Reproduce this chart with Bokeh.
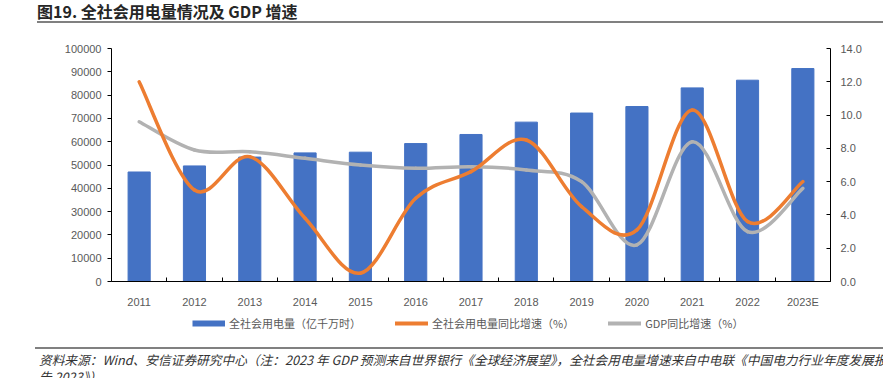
from bokeh.plotting import figure
from bokeh.models import (Range1d, LinearAxis, FixedTicker, Legend, LegendItem,
                          Div, NumeralTickFormatter, ColumnDataSource)
from bokeh.layouts import column
from bokeh.embed import file_html
from bokeh.resources import INLINE

# ---------------- data ----------------
years = ["2011", "2012", "2013", "2014", "2015", "2016", "2017",
         "2018", "2019", "2020", "2021", "2022", "2023E"]
consumption = [47000, 49600, 53400, 55200, 55500, 59200, 63100,
               68400, 72300, 75100, 83100, 86400, 91400]
elec_growth = [12.0, 5.5, 7.5, 3.8, 0.5, 5.0, 6.6, 8.5, 4.5, 3.1, 10.3, 3.6, 6.0]
gdp_growth = [9.6, 7.9, 7.8, 7.4, 7.0, 6.8, 6.9, 6.7, 6.0, 2.2, 8.4, 3.0, 5.6]
left_ticks = [0, 10000, 20000, 30000, 40000, 50000, 60000, 70000, 80000, 90000, 100000]
right_ticks = [0, 2, 4, 6, 8, 10, 12, 14]

title_text = "图19. 全社会用电量情况及 GDP 增速"
legend_labels = ["全社会用电量（亿千万时）", "全社会用电量同比增速（%）", "GDP同比增速（%）"]
note_line1 = "资料来源：Wind、安信证券研究中心（注：2023 年 GDP 预测来自世界银行《全球经济展望》，全社会用电量增速来自中电联《中国电力行业年度发展报"
note_line2 = "告 2023》）"

CJK = "Noto Sans CJK SC"
LAT = "Liberation Sans"
BLUE = "#4472C4"
ORANGE = "#ED7D31"
GRAY = "#B2B2B2"
TXT = "#595959"

n = len(years)
xs = [i + 0.5 for i in range(n)]


def smooth_segments(x, y, t=1.0 / 6.0):
    m = len(x)
    d = dict(x0=[], y0=[], x1=[], y1=[], cx0=[], cy0=[], cx1=[], cy1=[])
    for k in range(m - 1):
        km1 = max(k - 1, 0)
        kp2 = min(k + 2, m - 1)
        d["x0"].append(x[k]); d["y0"].append(y[k])
        d["x1"].append(x[k + 1]); d["y1"].append(y[k + 1])
        d["cx0"].append(x[k] + (x[k + 1] - x[km1]) * t)
        d["cy0"].append(y[k] + (y[k + 1] - y[km1]) * t)
        d["cx1"].append(x[k + 1] - (x[kp2] - x[k]) * t)
        d["cy1"].append(y[k + 1] - (y[kp2] - y[k]) * t)
    return ColumnDataSource(d)


p = figure(width=883, height=285, output_backend="svg", toolbar_location=None,
           x_range=Range1d(0, n), y_range=Range1d(0, 100000),
           min_border_left=111, min_border_right=53, min_border_top=23,
           min_border_bottom=28)
p.extra_y_ranges = {"pct": Range1d(0, 14)}
p.outline_line_color = None
p.xgrid.visible = False
p.ygrid.visible = False
p.background_fill_color = "white"
p.border_fill_color = "white"

# left axis
ya = p.yaxis[0]
ya.ticker = FixedTicker(ticks=left_ticks)
ya.formatter = NumeralTickFormatter(format="0")
ya.major_tick_out = 4
ya.major_tick_in = 0
ya.minor_tick_line_color = None
ya.axis_line_color = "black"
ya.major_tick_line_color = "black"
ya.major_label_text_font = LAT
ya.major_label_text_font_size = "11px"
ya.major_label_text_color = TXT
ya.major_label_standoff = 6

# right axis
ra = LinearAxis(y_range_name="pct")
ra.ticker = FixedTicker(ticks=right_ticks)
ra.formatter = NumeralTickFormatter(format="0.0")
ra.major_tick_out = 0
ra.major_tick_in = 4
ra.minor_tick_line_color = None
ra.axis_line_color = "black"
ra.major_tick_line_color = "black"
ra.major_label_text_font = LAT
ra.major_label_text_font_size = "11px"
ra.major_label_text_color = TXT
ra.major_label_standoff = 10
p.add_layout(ra, "right")

# x axis
xa = p.xaxis[0]
xa.ticker = FixedTicker(ticks=xs, minor_ticks=list(range(n + 1)))
xa.major_label_overrides = {x: y for x, y in zip(xs, years)}
xa.major_tick_line_color = None
xa.minor_tick_in = 4
xa.minor_tick_out = 0
xa.minor_tick_line_color = "black"
xa.axis_line_color = "black"
xa.major_label_text_font = LAT
xa.major_label_text_font_size = "11px"
xa.major_label_text_color = TXT
xa.major_label_standoff = 8

# bars
p.vbar(x=xs, top=consumption, width=0.4, fill_color=BLUE, line_color=BLUE)

# smoothed lines
p.bezier(x0="x0", y0="y0", x1="x1", y1="y1", cx0="cx0", cy0="cy0", cx1="cx1", cy1="cy1",
         source=smooth_segments(xs, gdp_growth), line_color=GRAY, line_width=3.5,
         line_cap="round", y_range_name="pct")
p.bezier(x0="x0", y0="y0", x1="x1", y1="y1", cx0="cx0", cy0="cy0", cx1="cx1", cy1="cy1",
         source=smooth_segments(xs, elec_growth), line_color=ORANGE, line_width=3.5,
         line_cap="round", y_range_name="pct")

# legend strip: a small figure holding only the legend (frame aligned with main frame)
lf = figure(width=883, height=37, output_backend="svg", toolbar_location=None,
            x_range=Range1d(0, 1), y_range=Range1d(0, 1),
            min_border_left=111, min_border_right=53, min_border_top=0, min_border_bottom=0)
lf.axis.visible = False
lf.grid.visible = False
lf.outline_line_color = None
lf.border_fill_color = "white"
# off-range placeholder renderers, used only for legend swatches
r1 = lf.line(x=[5, 6], y=[5, 6], line_color=BLUE, line_width=6)
r2 = lf.line(x=[5, 6], y=[5, 6], line_color=ORANGE, line_width=4, line_cap="round")
r3 = lf.line(x=[5, 6], y=[5, 6], line_color=GRAY, line_width=4, line_cap="round")
legend = Legend(items=[LegendItem(label=legend_labels[0], renderers=[r1]),
                       LegendItem(label=legend_labels[1], renderers=[r2]),
                       LegendItem(label=legend_labels[2], renderers=[r3])],
                orientation="horizontal", location=(81, 16),
                glyph_width=33, glyph_height=14, label_standoff=4, spacing=34,
                padding=0, margin=0, border_line_color=None,
                background_fill_alpha=0,
                label_text_font=CJK, label_text_font_size="11px",
                label_text_color=TXT)
lf.add_layout(legend, "center")

title = Div(text=(
    '<div style="width:846px; height:23px; '
    'border-bottom:2px solid #808080; font-weight:bold; font-size:16px; '
    f"font-family:'{CJK}'; line-height:23px; color:#262626; white-space:nowrap;\">"
    f"{title_text}</div>"), width=846, height=25, margin=(0, 0, 0, 37))

note = Div(text=(
    '<div style="width:848px; height:31px; border-top:2px solid #808080; '
    f"font-style:italic; font-size:12.7px; font-family:'{CJK}'; line-height:17px; "
    'color:#333333; white-space:nowrap; overflow:hidden; padding-left:4px; padding-top:2px;">'
    f"{note_line1}<br>{note_line2}</div>"), width=848, height=33, margin=(0, 0, 0, 35))

layout = column(title, p, lf, note, spacing=0)
open("out.html", "w").write(file_html(layout, INLINE))
